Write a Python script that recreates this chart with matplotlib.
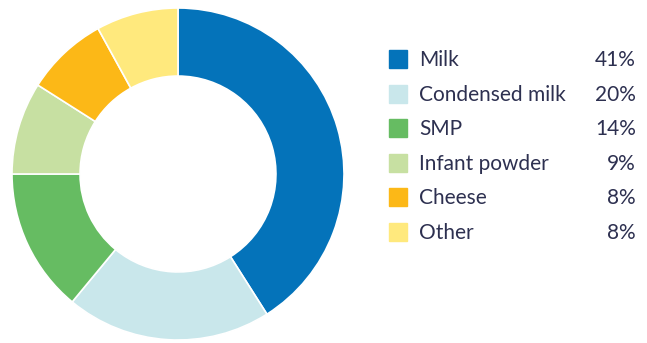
import matplotlib.pyplot as plt
from matplotlib.patches import Rectangle

# dairy import shares
labels = ['Milk', 'Condensed milk', 'SMP', 'Infant powder', 'Cheese', 'Other']
shares = [41, 20, 14, 9, 8, 8]
colors = ['#0473BA', '#C9E7EB', '#66BC62', '#C7E0A2', '#FCB817', '#FFE97D']

text_color = '#2D3050'
plt.rcParams['font.family'] = ['Lato', 'DejaVu Sans']

W, H = 647, 343
fig = plt.figure(figsize=(W / 100, H / 100), dpi=100)

# donut: centre (178, 174), outer radius 166 px
cx, cy, r = 178, 174, 166
ax = fig.add_axes([(cx - r) / W, (H - cy - r) / H, 2 * r / W, 2 * r / H])
ax.pie(shares, colors=colors, startangle=90, counterclock=False,
       wedgeprops=dict(width=0.41, edgecolor='white', linewidth=1.2))
ax.set_xlim(-1, 1)
ax.set_ylim(-1, 1)
ax.set_aspect('auto')
ax.axis('off')

# legend in pixel coordinates
lax = fig.add_axes([0, 0, 1, 1])
lax.set_xlim(0, W)
lax.set_ylim(H, 0)
lax.axis('off')
row0, step = 59, 34.6
for i, (lab, val, col) in enumerate(zip(labels, shares, colors)):
    y = row0 + i * step
    lax.add_patch(Rectangle((389, y - 9), 18, 18, color=col))
    lax.text(419, y + 1, lab, fontsize=15, color=text_color, va='center', ha='left')
    lax.text(636, y + 1, f'{val}%', fontsize=15, color=text_color, va='center', ha='right')

fig.savefig('out.png', dpi=100)
